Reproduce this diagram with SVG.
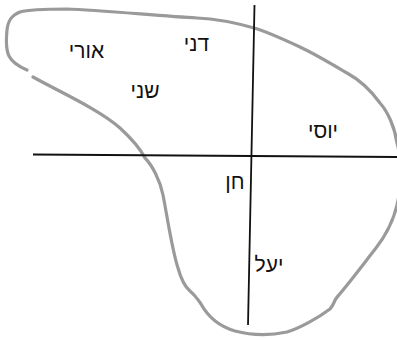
<svg xmlns="http://www.w3.org/2000/svg" width="397" height="340" viewBox="0 0 397 340">
<style>
.lbl{font-family:"Liberation Sans","DejaVu Sans",Arial,sans-serif;font-size:21px;fill:#111;text-anchor:middle}
.axis{stroke:#111;stroke-width:1.8;fill:none;stroke-linecap:butt}
.blob{stroke:#9a9a9a;stroke-width:3.2;fill:none;stroke-linecap:round;stroke-linejoin:round}
</style>
<rect width="397" height="340" fill="#fff"/>
<g id="region">
<path class="blob" d="M33,77 C60,92 100,110 120,128 C133,140 140,148 145,158 C152,165 160,180 163,195 C167,215 172,250 178,268 C181,279 184,286 190,291 C196,296 198,300 201,304 C207,315 218,326 235,331 C250,335 268,336 287,332 C300,328 318,318 330,309 C334,305 334,300 338,296 C350,282 365,262 376,248 C386,235 393,222 397,205 C401,190 402,160 397,143 C395,128 388,112 380,103 C372,92 360,80 347,73 C335,66 315,54 300,47 C285,40 265,31 254,28 C240,24 220,19 197,18 C160,16 100,10 67,9 C50,9 30,9 20,12 C12,15 8,20 7,30 C6,40 6,50 9,56 C12,62 20,67 27,70"/>
</g>
<g id="connectors">
<line class="axis" x1="33" y1="154.5" x2="397" y2="157"/>
<line class="axis" x1="254.5" y1="5" x2="248" y2="325"/>
</g>
<g id="dani"><text class="lbl" x="196.5" y="51">דני</text></g>
<g id="uri"><text class="lbl" x="86.5" y="58">אורי</text></g>
<g id="shani"><text class="lbl" x="145" y="98">שני</text></g>
<g id="yossi"><text class="lbl" x="323" y="138">יוסי</text></g>
<g id="chen"><text class="lbl" x="235" y="189">חן</text></g>
<g id="yael"><text class="lbl" x="269" y="272">יעל</text></g>
</svg>
